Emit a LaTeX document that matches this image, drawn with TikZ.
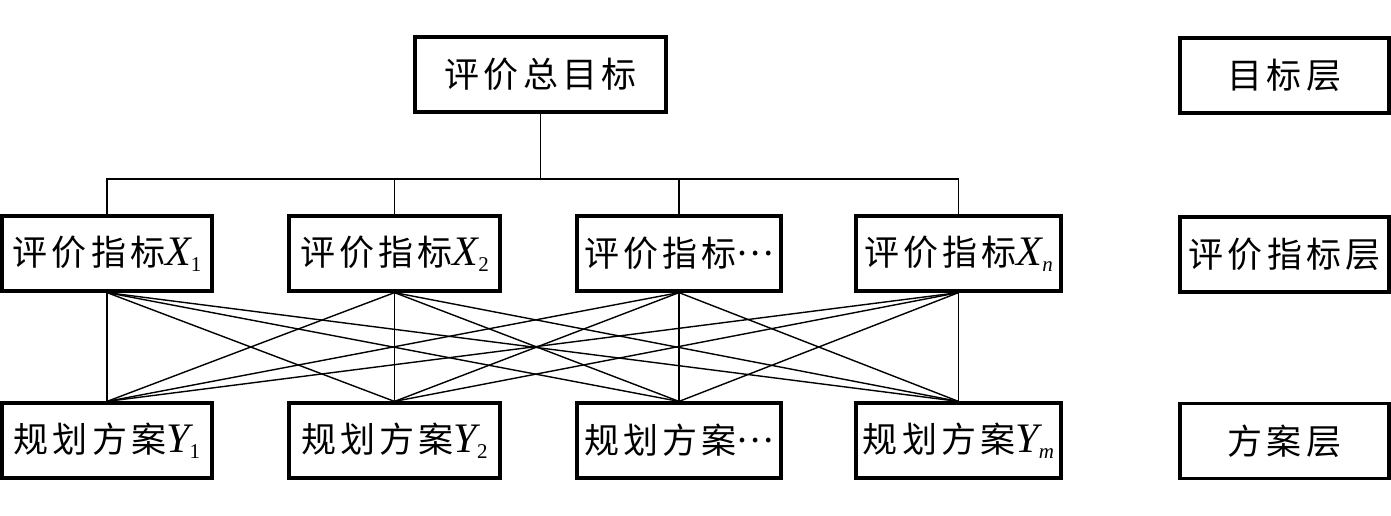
\documentclass[tikz,border=0pt]{standalone}
\usepackage{fontspec}
\newfontfamily\cjk[LetterSpace=12]{Noto Sans CJK SC}
\newfontfamily\tnr{Liberation Serif}
\newcommand{\vx}[2]{{\tnr\itshape\fontsize{42}{42}\selectfont #1}\raisebox{-0.3ex}{\tnr\fontsize{21}{21}\selectfont #2}}
\newcommand{\cdd}{\raisebox{0.33em}{…}}
\begin{document}
\begin{tikzpicture}[x=1pt,y=-1pt,
  box/.style={draw, line width=3.2pt, inner sep=0pt, minimum height=75pt, font=\cjk\fontsize{35}{40}\selectfont},
  wire/.style={line width=1.4pt}]
\useasboundingbox (0,0) rectangle (1391,515);
\node[box, minimum width=251pt] (top) at (540.5,74.5) {评价总目标};
\node[box, minimum width=210pt] (x1) at (107,253.5) {评价指标\vx{X}{1}};
\node[box, minimum width=211pt] (x2) at (394.5,253.5) {评价指标\vx{X}{2}};
\node[box, minimum width=204pt] (x3) at (679,253.5) {评价指标\cdd};
\node[box, minimum width=205pt] (xn) at (958.5,253.5) {评价指标\vx{X}{\itshape n}};
\node[box, minimum width=210pt] (y1) at (107,440.5) {规划方案\vx{Y}{1}};
\node[box, minimum width=211pt] (y2) at (394.5,440.5) {规划方案\vx{Y}{2}};
\node[box, minimum width=204pt] (y3) at (679,440.5) {规划方案\cdd};
\node[box, minimum width=205pt] (ym) at (958.5,440.5) {规划方案\vx{Y}{\itshape m}};
\node[box, minimum width=209pt] (l1) at (1284.5,75.5) {目标层};
\node[box, minimum width=209pt] (l2) at (1284.5,254.5) {评价指标层};
\node[box, minimum width=209pt] (l3) at (1284.5,441) {方案层};
\coordinate (bus) at (540.5,179);
\draw[wire] (top.south) -- (bus);
\draw[wire] (x1.north) -- (x1.north |- bus) -- (xn.north |- bus) -- (xn.north);
\draw[wire] (x2.north) -- (x2.north |- bus);
\draw[wire] (x3.north) -- (x3.north |- bus);
\foreach \a in {x1,x2,x3,xn}
  \foreach \b in {y1,y2,y3,ym}
    \draw[wire] (\a.south) -- (\b.north);
\end{tikzpicture}
\end{document}
